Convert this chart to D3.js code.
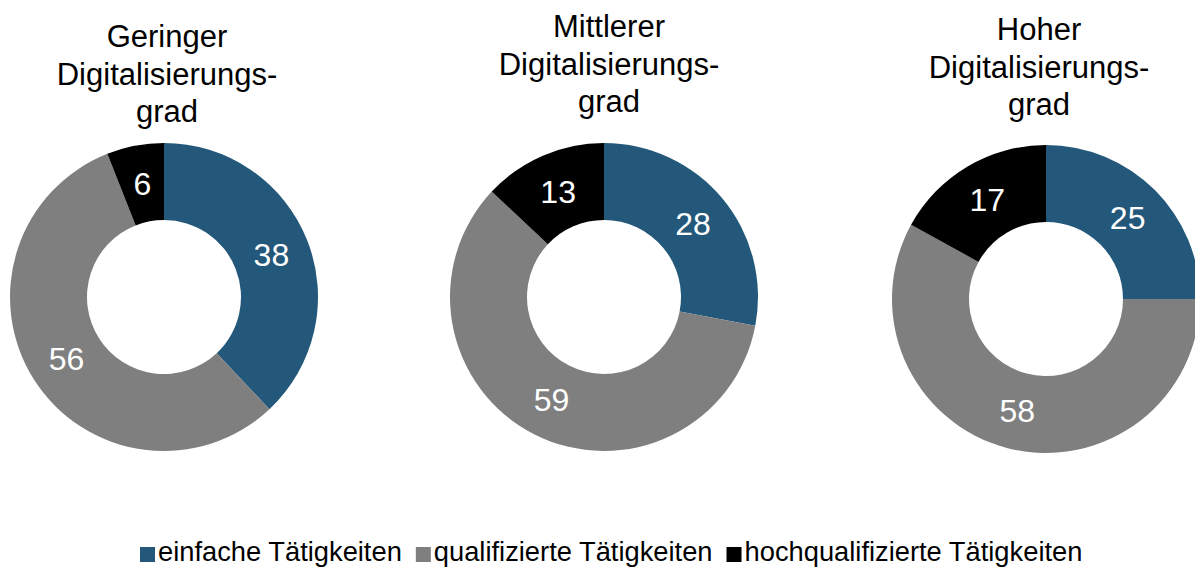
<!DOCTYPE html>
<html><head><meta charset="utf-8">
<script src="https://cdn.jsdelivr.net/npm/d3@7"></script>
<style>
html,body{margin:0;padding:0;background:#fff;}
svg{display:block;font-family:"Liberation Sans",Arial,sans-serif;}
</style></head>
<body>
<svg id="chart" width="1195" height="568"></svg>
<script>
const categories = ["einfache Tätigkeiten", "qualifizierte Tätigkeiten", "hochqualifizierte Tätigkeiten"];
const groups = ["Geringer Digitalisierungsgrad", "Mittlerer Digitalisierungsgrad", "Hoher Digitalisierungsgrad"];
const titleLines = [
  ["Geringer", "Digitalisierungs-", "grad"],
  ["Mittlerer", "Digitalisierungs-", "grad"],
  ["Hoher", "Digitalisierungs-", "grad"]
];
const geringer = [38, 56, 6];
const mittlerer = [28, 59, 13];
const hoher = [25, 58, 17];
const seriesValues = [geringer, mittlerer, hoher];
const colors = ["#24587B", "#7F7F7F", "#000000"];

const svg = d3.select("#chart");
const layout = [
  {cx: 164, cy: 297, tx: 167, ty: 47},
  {cx: 604, cy: 297, tx: 609, ty: 37},
  {cx: 1046, cy: 299, tx: 1039, ty: 40}
];
const outerR = 154, innerR = 77;
const color = d3.scaleOrdinal().domain(categories).range(colors);
const pie = d3.pie().sort(null).value(d => d.v);
const arc = d3.arc().innerRadius(innerR).outerRadius(outerR);

seriesValues.forEach((vals, gi) => {
  const L = layout[gi];
  const data = vals.map((v, i) => ({cat: categories[i], v}));
  const g = svg.append("g").attr("transform", `translate(${L.cx},${L.cy})`);
  const arcs = pie(data);
  g.selectAll("path").data(arcs).join("path")
    .attr("d", arc).attr("fill", d => color(d.data.cat));
  g.selectAll("text").data(arcs).join("text")
    .attr("transform", d => `translate(${arc.centroid(d)})`)
    .attr("text-anchor", "middle").attr("dy", "0.36em")
    .attr("fill", "#fff").attr("font-size", 32)
    .text(d => d.data.v);
  const t = svg.append("text").attr("text-anchor", "middle")
    .attr("font-size", 31).attr("fill", "#000");
  titleLines[gi].forEach((line, li) => {
    t.append("tspan").attr("x", L.tx).attr("y", L.ty + li * 37.5).text(line);
  });
});

// legend
const leg = svg.append("g");
let x = 140;
const ly = 561, sq = 15;
categories.forEach((c, i) => {
  leg.append("rect").attr("x", x).attr("y", ly - 14).attr("width", sq).attr("height", sq)
    .attr("fill", color(c));
  const txt = leg.append("text").attr("x", x + sq + 3).attr("y", ly)
    .attr("font-size", 27.3).attr("fill", "#000").text(c);
  const w = txt.node().getComputedTextLength();
  x = x + sq + 3 + w + 14;
});
</script>
</body></html>
